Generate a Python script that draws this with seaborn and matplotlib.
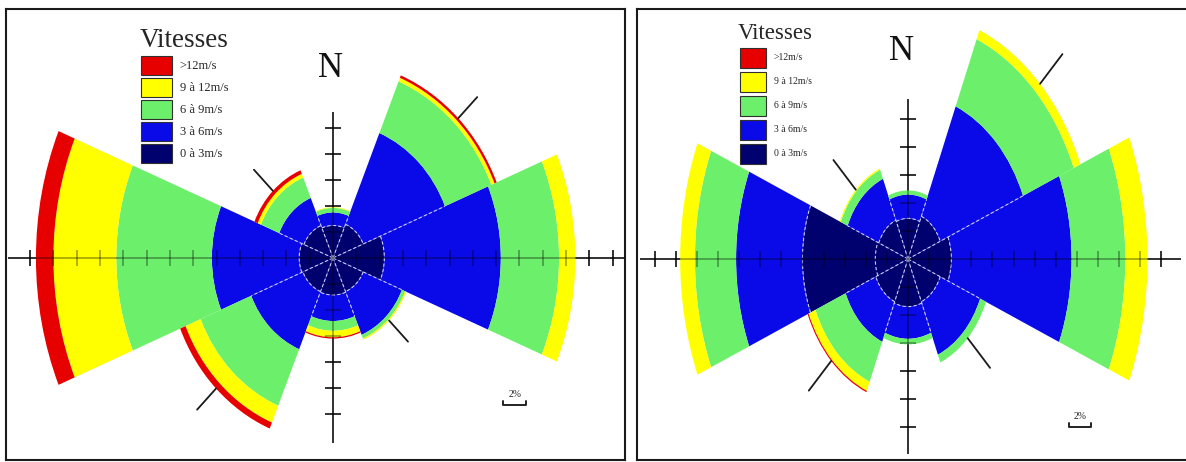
import numpy as np
import matplotlib
matplotlib.use("Agg")
import matplotlib.pyplot as plt
from matplotlib.patches import Wedge, Patch
import seaborn as sns

sns.set_theme(style="white")
plt.rcParams["font.family"] = ["Liberation Serif", "DejaVu Serif"]

# Wind directions (compass bearings, degrees clockwise from north)
directions = ["N", "NE", "E", "SE", "S", "SW", "W", "NW"]
bearings = [0, 45, 90, 135, 180, 225, 270, 315]

speed_classes = ["0 à 3m/s", "3 à 6m/s", "6 à 9m/s", "9 à 12m/s", ">12m/s"]
class_colors = ["#00006e", "#0a0ae8", "#6cf06c", "#ffff00", "#e60000"]

# Frequencies (%) by direction for each speed class - first station
left_0_3 = [2.5, 2.8, 4.4, 2.8, 2.85, 2.8, 2.9, 2.7]
left_3_6 = [1.0, 7.6, 10.0, 3.6, 2.0, 4.8, 7.5, 2.3]
left_6_9 = [0.35, 4.3, 5.0, 0.3, 0.75, 4.7, 8.2, 1.7]
left_9_12 = [0.05, 0.3, 1.4, 0.1, 0.5, 1.4, 5.4, 0.3]
left_12p = [0.0, 0.2, 0.0, 0.0, 0.1, 0.5, 1.5, 0.3]

# Frequencies (%) by direction for each speed class - second station
right_0_3 = [2.9, 3.3, 4.1, 3.3, 3.4, 3.3, 10.0, 3.0]
right_3_6 = [1.7, 8.5, 11.4, 4.1, 2.3, 3.1, 6.3, 3.2]
right_6_9 = [0.3, 5.2, 5.1, 0.6, 0.4, 3.1, 3.9, 0.7]
right_9_12 = [0.0, 0.7, 2.1, 0.0, 0.0, 0.7, 1.4, 0.1]
right_12p = [0.0, 0.0, 0.0, 0.0, 0.0, 0.1, 0.0, 0.0]

SECTOR = 45.0
DASH = dict(color="#c8ccff", lw=0.8, ls=(0, (3, 2)), zorder=3)


def draw_rose(ax, classes, xlim, ylim, hspan, vspan, tick_half, whisker,
              n_pos, bar_pos, legend_anchor, legend_font, title_font,
              handle_len, handle_h, lab_space, text_pad, n_size, ring=None):
    vals = np.array(classes, dtype=float)
    cum = np.cumsum(vals, axis=0)

    # stacked sectors, one annulus slice per speed class
    for k in range(vals.shape[0]):
        for i, b in enumerate(bearings):
            if vals[k, i] <= 0:
                continue
            ax.add_patch(Wedge((0, 0), cum[k, i], 90 - b - SECTOR / 2,
                               90 - b + SECTOR / 2, width=vals[k, i],
                               facecolor=class_colors[k], edgecolor="none",
                               zorder=2))

    # dashed sector borders and inner class arcs
    for i, b in enumerate(bearings):
        j = (i + 1) % len(bearings)
        a = np.deg2rad(b + SECTOR / 2)
        r_end = min(cum[1, i], cum[1, j])
        ax.plot([0, r_end * np.sin(a)], [0, r_end * np.cos(a)], **DASH)
        t = np.deg2rad(np.linspace(b - SECTOR / 2, b + SECTOR / 2, 40))
        ax.plot(cum[0, i] * np.sin(t), cum[0, i] * np.cos(t), **DASH)
        if ring is not None and cum[0, i] > ring + 1:
            ax.plot(ring * np.sin(t), ring * np.cos(t), **DASH)

    # direction markers on the intercardinal sectors
    for i, b in enumerate(bearings):
        if b % 90 == 45:
            a = np.deg2rad(b)
            r0 = cum[-1, i]
            ax.plot([r0 * np.sin(a), (r0 + whisker) * np.sin(a)],
                    [r0 * np.cos(a), (r0 + whisker) * np.cos(a)],
                    color="#1a1a1a", lw=1.3, zorder=4)

    # graduated cross through the centre, one tick every 2 %
    tx = [v for v in np.arange(-40, 41, 2) if v != 0 and hspan[0] + 1 < v < hspan[1] - 1]
    ty = [v for v in np.arange(-40, 41, 2) if v != 0 and vspan[0] + 1 < v < vspan[1] - 1]
    for z, alpha in ((1, 0.9), (3.5, 0.4)):
        line = dict(color="black", lw=1.1, alpha=alpha, zorder=z)
        ax.hlines(0, hspan[0], hspan[1], **line)
        ax.vlines(0, vspan[0], vspan[1], **line)
        ax.vlines(tx, -tick_half[1], tick_half[1], **line)
        ax.hlines(ty, -tick_half[0], tick_half[0], **line)

    # 2 % scale bar
    bx, by = bar_pos
    ax.plot([bx, bx, bx + 2, bx + 2], [by + 0.3, by, by, by + 0.3],
            color="#222222", lw=1.4, zorder=4)
    ax.text(bx + 1, by + 0.45, "2%", ha="center", va="bottom", fontsize=7,
            color="#222222")

    ax.text(n_pos[0], n_pos[1], "N", ha="center", va="center",
            fontsize=n_size, color="#111111")

    handles = [Patch(facecolor=c, edgecolor="#303030", lw=0.8)
               for c in reversed(class_colors)]
    leg = ax.legend(handles, list(reversed(speed_classes)), title="Vitesses",
                    loc="upper left", bbox_to_anchor=legend_anchor,
                    frameon=False, prop={"size": legend_font},
                    title_fontproperties={"size": title_font},
                    handlelength=handle_len, handleheight=handle_h,
                    labelspacing=lab_space, handletextpad=text_pad,
                    borderpad=0, borderaxespad=0)
    leg.set_zorder(5)

    ax.set_xlim(*xlim)
    ax.set_ylim(*ylim)
    ax.set_aspect("auto")
    ax.set_xticks([])
    ax.set_yticks([])
    for s in ax.spines.values():
        s.set_color("#1a1a1a")
        s.set_linewidth(1.5)
        s.set_visible(True)


fig = plt.figure(figsize=(11.86, 4.62), dpi=100)
fig.patch.set_facecolor("white")

ax_left = fig.add_axes([6 / 1186, 2 / 462, 619 / 1186, 451 / 462])
ax_right = fig.add_axes([637 / 1186, 2 / 462, 549 / 1186, 451 / 462])

draw_rose(ax_left,
          [left_0_3, left_3_6, left_6_9, left_9_12, left_12p],
          xlim=(-28.07, 25.06), ylim=(-15.54, 19.15),
          hspan=(-27.9, 25.2), vspan=(-14.2, 11.2),
          tick_half=(0.69, 0.62), whisker=2.3,
          n_pos=(-0.2, 14.6), bar_pos=(14.6, -11.3),
          legend_anchor=(0.2165, 0.958), legend_font=9, title_font=19.5,
          handle_len=2.5, handle_h=1.96, lab_space=0.24, text_pad=0.64,
          n_size=25)

draw_rose(ax_right,
          [right_0_3, right_3_6, right_6_9, right_9_12, right_12p],
          xlim=(-25.69, 26.35), ylim=(-14.36, 17.86),
          hspan=(-25.4, 25.9), vspan=(-13.9, 11.4),
          tick_half=(0.76, 0.57), whisker=3.0,
          n_pos=(-0.66, 14.8), bar_pos=(15.3, -12.0),
          legend_anchor=(0.184, 0.97), legend_font=7, title_font=16.5,
          handle_len=2.7, handle_h=2.79, lab_space=0.41, text_pad=0.8,
          n_size=25, ring=3.1)
ax_right.spines["right"].set_visible(False)

fig.savefig("out.png", dpi=100, facecolor="white")
